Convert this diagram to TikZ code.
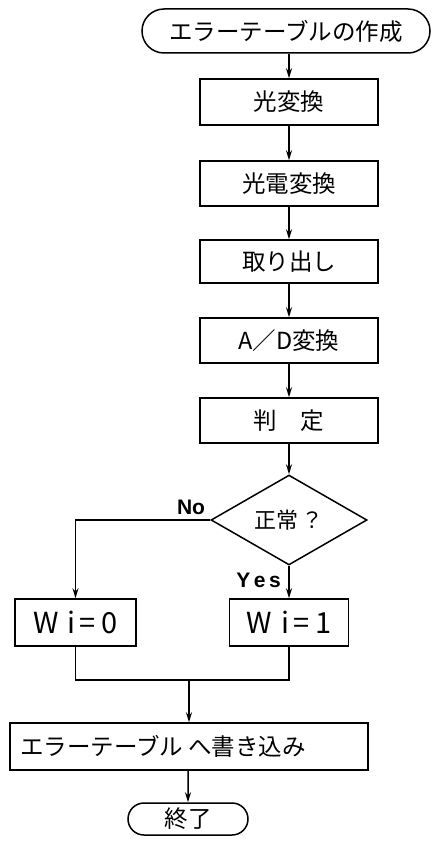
\documentclass[tikz,border=0pt]{standalone}
\usepackage{fontspec}
\newfontfamily\jp{Noto Sans CJK JP}
\newfontfamily\lat{Liberation Sans}
\usetikzlibrary{shapes.geometric,shapes.misc,arrows.meta}
\tikzset{
  x=1pt,y=-1pt,
  ln/.style={line width=1.5pt},
  arr/.style={ln,-{Stealth[length=10pt,width=6pt]}},
  box/.style={draw,ln,rectangle,inner sep=0pt,font=\jp\fontsize{23.5}{27}\selectfont},
  term/.style={draw,ln,rounded rectangle,inner sep=0pt,font=\jp\fontsize{23.5}{27}\selectfont},
  lbl/.style={font=\lat\bfseries\fontsize{21}{24}\selectfont,inner sep=0pt}
}
\begin{document}
\begin{tikzpicture}
\useasboundingbox (0,0) rectangle (432,845);
\node[term,minimum width=288pt,minimum height=44pt] (start) at (286,31) {エラーテーブルの作成};
\node[box,minimum width=178pt,minimum height=46pt] (b1) at (289,102) {光変換};
\node[box,minimum width=178pt,minimum height=45pt] (b2) at (289,183.5) {光電変換};
\node[box,minimum width=178pt,minimum height=43pt] (b3) at (289,261.5) {取り出し};
\node[box,minimum width=178pt,minimum height=45pt] (b4) at (289,340.5) {A／D変換};
\node[box,minimum width=178pt,minimum height=45pt] (b5) at (289,420.5) {判　定};
\node[draw,ln,diamond,minimum width=156pt,minimum height=88pt,inner sep=0pt,font=\jp\fontsize{22}{25}\selectfont] (dia) at (289,520) {正常\,？};
\node[box,minimum width=121pt,minimum height=47pt,font=\jp\fontsize{29}{32}\selectfont] (w0) at (75.5,622.5) {W\hspace{9pt}i\hspace{4pt}=\hspace{6pt}0};
\node[box,minimum width=119pt,minimum height=47pt,font=\jp\fontsize{29}{32}\selectfont] (w1) at (289,622.5) {W\hspace{9pt}i\hspace{4pt}=\hspace{6pt}1};
\node[box,minimum width=358pt,minimum height=47pt] (fin) at (189,746.5) {エラーテーブル へ書き込み\hspace*{52pt}};
\node[term,minimum width=120pt,minimum height=32pt] (end) at (188,819) {終了};
\coordinate (m) at (189,680);
\node[lbl,anchor=south] (no) at (191,515) {No};
\node[lbl,anchor=south east] (yes) at (281,588) {Y\,e\,s};
\draw[arr] (start.south -| b1) -- (b1);
\draw[arr] (b1) -- (b2);
\draw[arr] (b2) -- (b3);
\draw[arr] (b3) -- (b4);
\draw[arr] (b4) -- (b5);
\draw[arr] (b5) -- (dia.north);
\draw[arr] (dia.west) -| (w0.north);
\draw[arr] (dia.south) -- (w1.north);
\draw[ln] (w0.south) -- (w0.south |- m) -- (w1.south |- m) -- (w1.south);
\draw[arr] (m) -- (fin.north -| m);
\draw[arr] (fin.south -| end) -- (end);
\end{tikzpicture}
\end{document}
